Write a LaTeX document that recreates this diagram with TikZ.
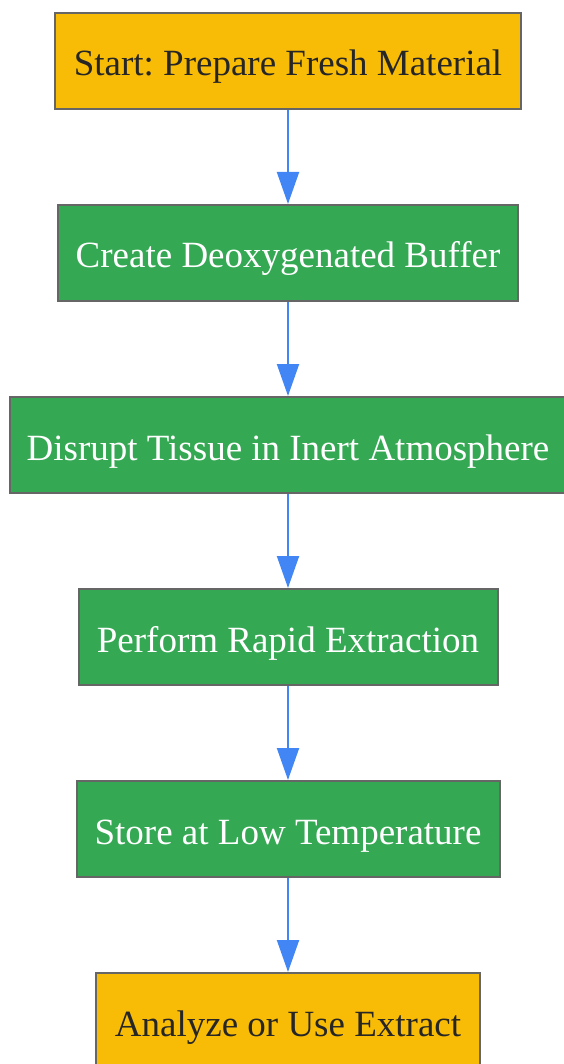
\documentclass[tikz,border=0pt]{standalone}
\usepackage{fontspec}
\setmainfont{Liberation Serif}
\usetikzlibrary{arrows.meta}
\frenchspacing
\definecolor{stepgreen}{HTML}{34A853}
\definecolor{startyellow}{HTML}{F9BC06}
\definecolor{edgegray}{HTML}{666666}
\definecolor{flowblue}{HTML}{4285F4}
\tikzset{
  box/.style={draw=edgegray, line width=2pt, minimum height=96pt, inner sep=0pt,
    text height=34pt, text depth=4pt, font=\fontsize{37}{40}\selectfont},
  endbox/.style={box, fill=startyellow, text=black!85},
  stepbox/.style={box, fill=stepgreen, text=white},
  flow/.style={draw=flowblue, line width=2pt, -{Triangle[length=32pt,width=22pt]}}
}
\begin{document}
\begin{tikzpicture}[x=1pt,y=-1pt]
    \useasboundingbox (0,0) rectangle (564,1064);
    \node[endbox, minimum width=466pt] (start) at (288,61) {Start: Prepare Fresh Material};
    \node[stepbox, minimum width=460pt] (buffer) at (288,253) {Create Deoxygenated Buffer};
    \node[stepbox, minimum width=556pt] (disrupt) at (288,445) {Disrupt Tissue in Inert Atmosphere};
    \node[stepbox, minimum width=419pt] (extract) at (288,637) {Perform Rapid Extraction};
    \node[stepbox, minimum width=423pt] (store) at (288,829) {Store at Low Temperature};
    \node[endbox, minimum width=384pt] (analyze) at (288,1021) {Analyze or Use Extract};

    \draw[flow] (start) -- (buffer);
    \draw[flow] (buffer) -- (disrupt);
    \draw[flow] (disrupt) -- (extract);
    \draw[flow] (extract) -- (store);
    \draw[flow] (store) -- (analyze);
  \end{tikzpicture}
\end{document}
